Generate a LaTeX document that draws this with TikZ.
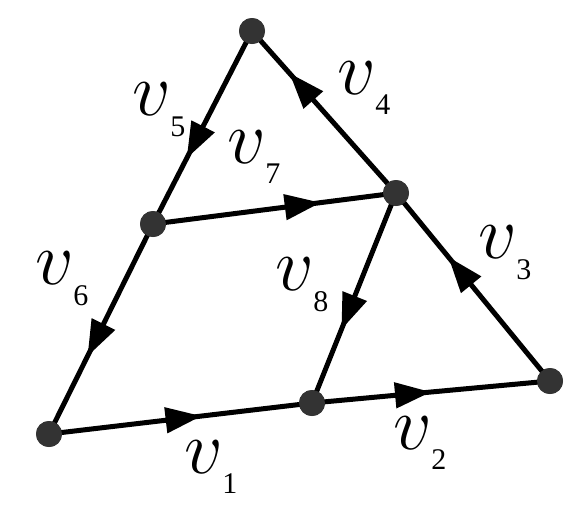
\RequirePackage{fix-cm}
\documentclass[tikz,border=0pt]{standalone}
\usepackage{fontspec}
\setmainfont{Liberation Serif}
\usetikzlibrary{arrows.meta,decorations.markings,calc}
\newcommand\vlab[1]{$v$\rlap{\kern-1pt\raisebox{-20.5pt}{\fontsize{30}{30}\selectfont\upshape #1}}}
\begin{document}
\begin{tikzpicture}[x=1pt,y=-1pt,
  vert/.style={circle,fill=black!80,inner sep=0pt,minimum size=26pt},
  edge/.style={line width=5pt,black,
    postaction={decorate,decoration={markings,
      mark=at position #1 with {\arrow{Triangle[length=36pt,width=25pt]}}}}},
  lab/.style={inner sep=0pt,font=\fontsize{76}{76}\selectfont}]
\useasboundingbox (0,0) rectangle (581,507);
\node[vert] (T) at (252,31) {};
\node[vert] (ML) at (153,224) {};
\node[vert] (MR) at (396,193) {};
\node[vert] (BL) at (49,434) {};
\node[vert] (BM) at (312,403) {};
\node[vert] (BR) at (550,381) {};
\draw[edge=0.66] (T.center) -- (ML.center);
\draw[edge=0.63] (ML.center) -- (BL.center);
\draw[edge=0.58] (BL.center) -- (BM.center);
\draw[edge=0.5] (BM.center) -- (BR.center);
\draw[edge=0.66] (BR.center) -- (MR.center);
\draw[edge=0.74] (MR.center) -- (T.center);
\draw[edge=0.69] (ML.center) -- (MR.center);
\draw[edge=0.65] (MR.center) -- (BM.center);
\foreach \n in {T,ML,MR,BL,BM,BR} \node[vert] at (\n) {};
\node[lab] (l5) at (152,110) {\vlab{5}};
\node[lab] (l4) at (357,88) {\vlab{4}};
\node[lab] (l7) at (247,157) {\vlab{7}};
\node[lab] (l6) at (55,279) {\vlab{6}};
\node[lab] (l1) at (204,467) {\vlab{1}};
\node[lab] (l8) at (295,285) {\vlab{8}};
\node[lab] (l3) at (498,253) {\vlab{3}};
\node[lab] (l2) at (413,443) {\vlab{2}};
\end{tikzpicture}
\end{document}
